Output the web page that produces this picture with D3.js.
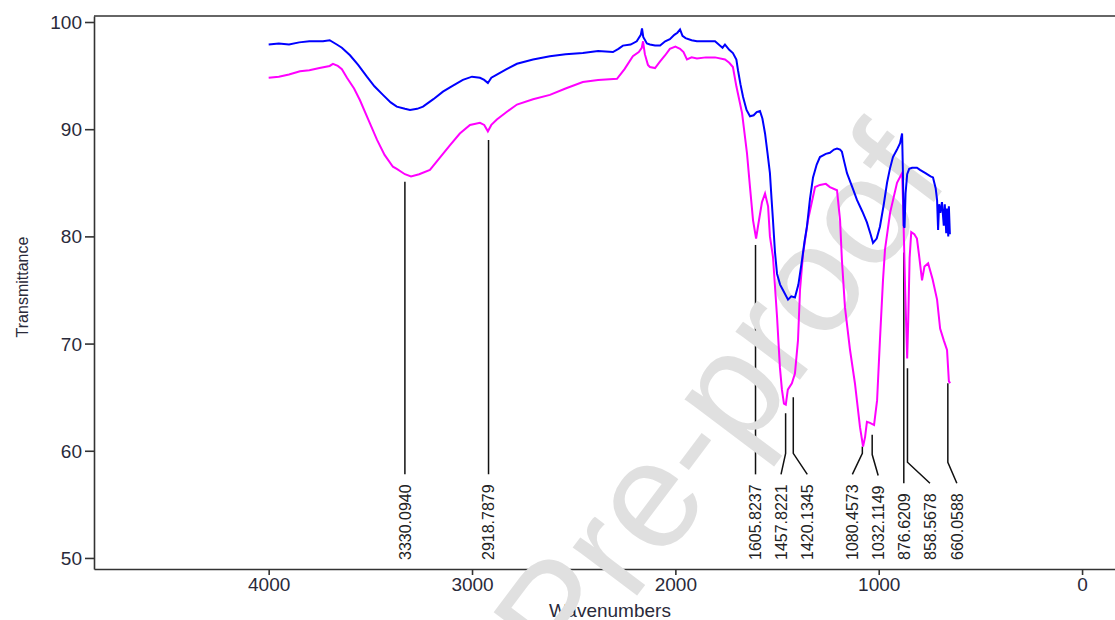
<!DOCTYPE html>
<html>
<head>
<meta charset="utf-8">
<script src="https://cdn.jsdelivr.net/npm/d3@7"></script>
<style>
    body { margin: 0; background: #fff; }
    text { font-family: "Liberation Sans", Arial, sans-serif; }
</style>
</head>
<body>
<div id="chart-area"></div>
<script>
/*
*    FTIR spectrum
*/

// blue spectrum
var blueWn = [4000, 3950, 3900, 3850, 3800, 3733, 3700, 3665, 3640, 3600, 3560, 3517, 3480, 3438, 3400, 3370, 3330, 3305, 3270, 3241,
    3190, 3143, 3100, 3045, 3000, 2961, 2940, 2922, 2905, 2878, 2830, 2779, 2700, 2617, 2540, 2455, 2380, 2307, 2280, 2258,
    2220, 2190, 2170, 2164, 2158, 2140, 2125, 2100, 2075, 2050, 2027, 2005, 1990, 1977, 1965, 1950, 1920, 1894, 1850, 1805,
    1781, 1768, 1756, 1735, 1717, 1700, 1692, 1680, 1667, 1650, 1633, 1615, 1600, 1584, 1572, 1559, 1547, 1535, 1527, 1520,
    1510, 1500, 1485, 1471, 1446, 1430, 1412, 1395, 1377, 1365, 1353, 1338, 1323, 1305, 1289, 1260, 1240, 1220, 1205, 1190,
    1181, 1170, 1156, 1130, 1107, 1080, 1058, 1040, 1028, 1010, 994, 975, 959, 945, 930, 910, 895, 885, 881, 877,
    873, 868, 860, 850, 836, 812, 797, 770, 745, 733, 720, 713, 708, 703, 697, 689, 680, 675, 668, 664,
    658, 655, 650];
var blueT = [97.9, 98.0, 97.9, 98.1, 98.2, 98.2, 98.3, 97.9, 97.6, 96.9, 96.0, 94.9, 94.0, 93.2, 92.5, 92.1, 91.9, 91.8, 91.9, 92.1,
    92.8, 93.5, 94.0, 94.6, 94.9, 94.8, 94.6, 94.3, 94.8, 95.1, 95.6, 96.1, 96.5, 96.8, 97.0, 97.1, 97.3, 97.2, 97.5, 97.8,
    97.9, 98.2, 98.8, 99.4, 98.6, 98.0, 97.9, 97.8, 97.8, 98.2, 98.4, 98.8, 99.0, 99.3, 98.7, 98.5, 98.3, 98.2, 98.2, 98.2,
    97.8, 97.6, 97.9, 97.4, 97.1, 96.5, 95.5, 94.2, 93.0, 91.8, 91.2, 91.3, 91.6, 91.7, 91.0, 89.6, 87.8, 85.9, 83.5, 81.5,
    78.5, 76.5, 75.5, 75.0, 74.1, 74.4, 74.3, 75.5, 77.8, 79.5, 80.9, 83.5, 85.5, 86.7, 87.4, 87.7, 87.8, 88.1, 88.2, 88.1,
    87.9, 87.0, 85.9, 84.6, 83.4, 82.3, 81.3, 80.2, 79.4, 79.8, 80.9, 83.0, 85.0, 86.3, 87.4, 88.1, 88.7, 89.6, 86.0, 81.0,
    80.8, 84.0, 85.8, 86.3, 86.4, 86.4, 86.2, 85.9, 85.6, 85.5, 84.5, 83.4, 80.6, 83.0, 82.2, 83.2, 81.0, 83.0, 80.3, 82.6,
    80.0, 82.8, 80.2];

// magenta spectrum
var pinkWn = [4000, 3950, 3900, 3846, 3800, 3750, 3700, 3684, 3660, 3640, 3615, 3580, 3551, 3510, 3467, 3430, 3389, 3370, 3330, 3300,
    3260, 3207, 3160, 3109, 3060, 3010, 2961, 2940, 2922, 2905, 2878, 2830, 2779, 2700, 2617, 2540, 2455, 2380, 2287, 2250,
    2209, 2180, 2165, 2159, 2150, 2135, 2125, 2100, 2076, 2050, 2027, 2000, 1977, 1960, 1943, 1920, 1894, 1850, 1805, 1756,
    1735, 1717, 1700, 1672, 1648, 1633, 1618, 1603, 1594, 1574, 1559, 1544, 1535, 1520, 1500, 1486, 1476, 1466, 1457, 1447,
    1427, 1412, 1397, 1387, 1372, 1348, 1313, 1289, 1260, 1240, 1205, 1190, 1181, 1166, 1141, 1117, 1092, 1077, 1067, 1058,
    1043, 1023, 1008, 994, 979, 969, 944, 910, 885, 880, 870, 860, 855, 848, 840, 825, 812, 800, 787, 775,
    757, 735, 713, 698, 680, 664, 655, 649];
var pinkT = [94.8, 94.9, 95.1, 95.4, 95.5, 95.7, 95.9, 96.1, 95.9, 95.6, 94.8, 93.8, 92.7, 90.9, 89.0, 87.6, 86.5, 86.3, 85.8, 85.6,
    85.8, 86.2, 87.3, 88.5, 89.6, 90.4, 90.6, 90.4, 89.8, 90.4, 90.9, 91.6, 92.3, 92.8, 93.2, 93.8, 94.4, 94.6, 94.7, 95.6,
    96.8, 97.2, 97.6, 98.2, 97.0, 96.0, 95.8, 95.7, 96.3, 96.9, 97.5, 97.7, 97.5, 97.2, 96.5, 96.7, 96.6, 96.7, 96.7, 96.5,
    96.2, 95.8, 94.0, 91.5, 87.8, 84.6, 81.5, 79.8, 80.9, 83.2, 84.0, 82.8, 80.0, 78.1, 72.5, 67.8, 65.7, 64.4, 64.3, 65.7,
    66.3, 67.2, 70.3, 75.0, 78.4, 81.5, 84.6, 84.8, 84.9, 84.6, 84.3, 81.5, 77.8, 73.4, 69.4, 66.3, 62.2, 60.4, 61.3, 62.7,
    62.6, 62.4, 64.7, 70.3, 75.9, 78.8, 82.2, 85.0, 85.9, 83.0, 75.0, 68.6, 72.0, 78.0, 80.4, 80.2, 79.8, 78.0, 75.9, 77.2,
    77.5, 76.0, 74.1, 71.4, 70.3, 69.4, 66.5, 66.3];

// peak picks
var peakLabels = ["3330.0940", "2918.7879", "1605.8237", "1457.8221", "1420.1345", "1080.4573", "1032.1149", "876.6209", "858.5678", "660.0588"];
var peakWn = [3330.094, 2918.7879, 1605.8237, 1457.8221, 1420.1345, 1080.4573, 1032.1149, 876.6209, 858.5678, 660.0588];
var peakT = [85.1, 89.0, 79.2, 63.5, 65.0, 60.4, 61.5, 78.5, 67.7, 66.3];

var xTicks = [4000, 3000, 2000, 1000, 0];
var yTicks = [50, 60, 70, 80, 90, 100];

// label nudges (px) so the picks don't collide
var labelShift = [0, 0, 0, -4.6, 14, -10, 6, 0, 22.5, 9];

var width = 1115;
var height = 620;
var plot = { left: 94, right: 1115, top: 16, bottom: 569 };

var svg = d3.select("#chart-area").append("svg")
    .attr("width", width)
    .attr("height", height);

var x = d3.scaleLinear()
    .domain([4859, -162])
    .range([plot.left, plot.right]);

var y = d3.scaleLinear()
    .domain([48.97, 100.56])
    .range([plot.bottom, plot.top]);

var axisColor = "#333";

// frame: top border
svg.append("line")
    .attr("x1", plot.left).attr("x2", plot.right)
    .attr("y1", plot.top).attr("y2", plot.top)
    .attr("stroke", axisColor)
    .attr("stroke-width", 1.6);

// x Axis
var xAxisCall = d3.axisBottom(x)
    .tickValues(xTicks)
    .tickSize(6)
    .tickSizeOuter(0)
    .tickPadding(3)
    .tickFormat(d3.format("d"));
var xAxis = svg.append("g")
    .attr("class", "x axis")
    .attr("transform", "translate(0, " + plot.bottom + ")")
    .call(xAxisCall);

// y Axis
var yAxisCall = d3.axisLeft(y)
    .tickValues(yTicks)
    .tickSize(9)
    .tickSizeOuter(0)
    .tickPadding(3)
    .tickFormat(d3.format("d"));
var yAxis = svg.append("g")
    .attr("class", "y axis")
    .attr("transform", "translate(" + plot.left + ", 0)")
    .call(yAxisCall);

svg.selectAll(".axis .domain")
    .attr("stroke", axisColor)
    .attr("stroke-width", 1.6);
svg.selectAll(".axis .tick line")
    .attr("stroke", axisColor)
    .attr("stroke-width", 1.6);
svg.selectAll(".axis .tick text")
    .attr("fill", "#2a2a3a")
    .style("font-size", "19px")
    .style("font-family", "'Liberation Sans', Arial, sans-serif");
yAxis.selectAll(".tick text").attr("dy", "0.34em");

// x Label
svg.append("text")
    .attr("x", 610)
    .attr("y", 617)
    .attr("text-anchor", "middle")
    .text("Wavenumbers")
    .style("fill", "#2a2a3a")
    .style("font-size", "19px");

// y Label
svg.append("text")
    .attr("x", -287)
    .attr("y", 28)
    .attr("text-anchor", "middle")
    .attr("transform", "rotate(-90)")
    .text("Transmittance")
    .style("fill", "#2a2a3a")
    .style("font-size", "16px");

// peak labels and leader lines
var labelBase = 560;
var peaks = svg.append("g").attr("class", "peaks");
peakLabels.forEach(function(lbl, i) {
    var px = x(peakWn[i]);
    var lx = px + labelShift[i];
    var t = peaks.append("text")
        .attr("transform", "translate(" + lx + ", " + labelBase + ") rotate(-90)")
        .attr("dy", "0.36em")
        .attr("text-anchor", "start")
        .text(lbl)
        .style("fill", "#222")
        .style("font-size", "16px");
    var len = t.node().getComputedTextLength();
    var endY = labelBase - len - 10;
    var bendY = endY - 21;
    var topY = y(peakT[i]);
    var pts = [[px, topY]];
    if (Math.abs(lx - px) < 1) {
        pts.push([px, endY]);
    } else {
        if (topY < bendY) pts.push([px, bendY]);
        pts.push([lx, endY]);
    }
    peaks.append("path")
        .attr("d", d3.line()(pts))
        .attr("fill", "none")
        .attr("stroke", "#111")
        .attr("stroke-width", 1.5);
});

// watermark
svg.append("text")
    .attr("transform", "translate(718, 400) rotate(-53)")
    .attr("text-anchor", "middle")
    .attr("dy", "0.35em")
    .text("Pre-proof")
    .style("fill", "#e0e0e0")
    .style("font-size", "152px");

// spectra
var line = d3.line()
    .x(function(d) { return x(d[0]); })
    .y(function(d) { return y(d[1]); });

svg.append("path")
    .datum(pinkWn.map(function(w, i) { return [w, pinkT[i]]; }))
    .attr("d", line)
    .attr("fill", "none")
    .attr("stroke", "#ff00ff")
    .attr("stroke-width", 2);

svg.append("path")
    .datum(blueWn.map(function(w, i) { return [w, blueT[i]]; }))
    .attr("d", line)
    .attr("fill", "none")
    .attr("stroke", "#0000ff")
    .attr("stroke-width", 2);
</script>
</body>
</html>
